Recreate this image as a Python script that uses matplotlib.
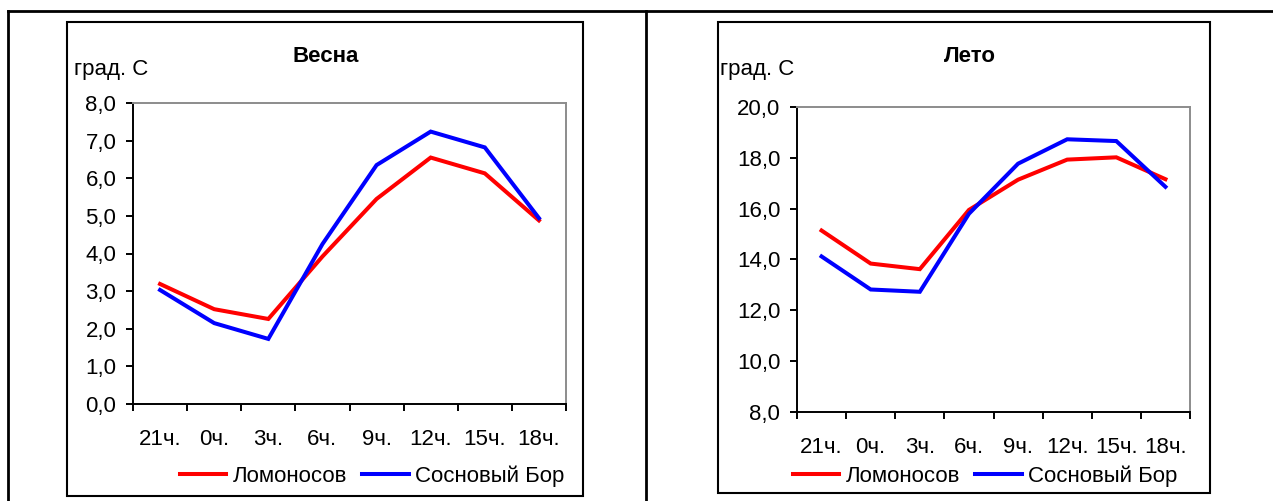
import matplotlib
matplotlib.use("Agg")
import matplotlib.pyplot as plt
from matplotlib.patches import Rectangle
from matplotlib.lines import Line2D
import numpy as np

plt.rcParams['font.family'] = ['Liberation Sans', 'DejaVu Sans']

hours = ["21ч.", "0ч.", "3ч.", "6ч.", "9ч.", "12ч.", "15ч.", "18ч."]
series_names = ["Ломоносов", "Сосновый Бор"]
colors = ["#FF0000", "#0000FF"]

spring_lomonosov = [3.19, 2.52, 2.26, 3.92, 5.45, 6.55, 6.13, 4.88]
spring_sbor = [3.03, 2.15, 1.73, 4.25, 6.35, 7.24, 6.82, 4.94]
summer_lomonosov = [15.14, 13.84, 13.62, 15.95, 17.14, 17.93, 18.02, 17.16]
summer_sbor = [14.12, 12.82, 12.73, 15.80, 17.77, 18.73, 18.66, 16.86]

spring_yticks = [0, 1, 2, 3, 4, 5, 6, 7, 8]
summer_yticks = [8, 10, 12, 14, 16, 18, 20]

W, H = 1273, 501
fig = plt.figure(figsize=(W / 100, H / 100), dpi=100)

def fx(x):
    return x / W

def fy(y):
    return 1 - y / H

FS = 16

# outer frame lines
for (x0, y0, x1, y1) in [(8, 11, 1273, 11), (8, 11, 8, 501), (646, 11, 646, 501)]:
    fig.add_artist(Line2D([fx(x0), fx(x1)], [fy(y0), fy(y1)], color='black', lw=2.0,
                          transform=fig.transFigure))

# chart boxes
for (x0, y0, x1, y1) in [(67, 22, 583, 496), (718, 22, 1210, 493)]:
    fig.add_artist(Rectangle((fx(x0), fy(y1)), fx(x1) - fx(x0), fy(y0) - fy(y1),
                             fill=False, edgecolor='black', lw=1.5, transform=fig.transFigure))


def make_panel(rect, title, title_xy, ylab_xy, s1, s2, yticks, legend_center):
    x0, y0, x1, y1 = rect
    ax = fig.add_axes([fx(x0), fy(y1), fx(x1) - fx(x0), fy(y0) - fy(y1)])
    xpos = np.arange(len(hours)) + 0.5
    for vals, c, name in zip([s1, s2], colors, series_names):
        ax.plot(xpos, vals, color=c, lw=2.9, label=name, solid_joinstyle='miter')
    ax.set_xlim(0, len(hours))
    ax.set_ylim(yticks[0], yticks[-1])
    ax.set_yticks(yticks)
    ax.set_yticklabels([("%.1f" % v).replace('.', ',') for v in yticks], fontsize=FS)
    ax.set_xticks(np.arange(len(hours) + 1))
    ax.set_xticklabels([])
    ax.set_xticks(xpos, minor=True)
    ax.set_xticklabels(hours, minor=True, fontsize=FS)
    ax.tick_params(axis='x', which='major', direction='out', length=5, width=1.4, color='black')
    ax.tick_params(axis='x', which='minor', length=0, pad=18)
    ax.tick_params(axis='y', which='major', direction='out', length=5, width=1.4, pad=7)
    for s in ['left', 'bottom']:
        ax.spines[s].set_color('black')
        ax.spines[s].set_linewidth(1.4)
    for s in ['top', 'right']:
        ax.spines[s].set_color('#8C8C8C')
        ax.spines[s].set_linewidth(1.4)
    fig.text(fx(title_xy[0]), fy(title_xy[1]), title, ha='center', va='baseline',
             fontsize=FS, fontweight='bold')
    fig.text(fx(ylab_xy[0]), fy(ylab_xy[1]), "град. С", ha='left', va='baseline', fontsize=FS)
    ax.legend(loc='center', bbox_to_anchor=(fx(legend_center[0]), fy(legend_center[1])),
              bbox_transform=fig.transFigure, ncol=2, frameon=False, fontsize=FS,
              handlelength=2.1, handletextpad=0.28, columnspacing=0.68, borderpad=0)
    return ax

make_panel((133, 103, 566, 404), "Весна", (326, 62), (74, 75),
           spring_lomonosov, spring_sbor, spring_yticks, (372, 476))
make_panel((797, 107, 1190, 412), "Лето", (970, 62), (720, 75),
           summer_lomonosov, summer_sbor, summer_yticks, (985, 476))

fig.savefig("out.png", dpi=100)
